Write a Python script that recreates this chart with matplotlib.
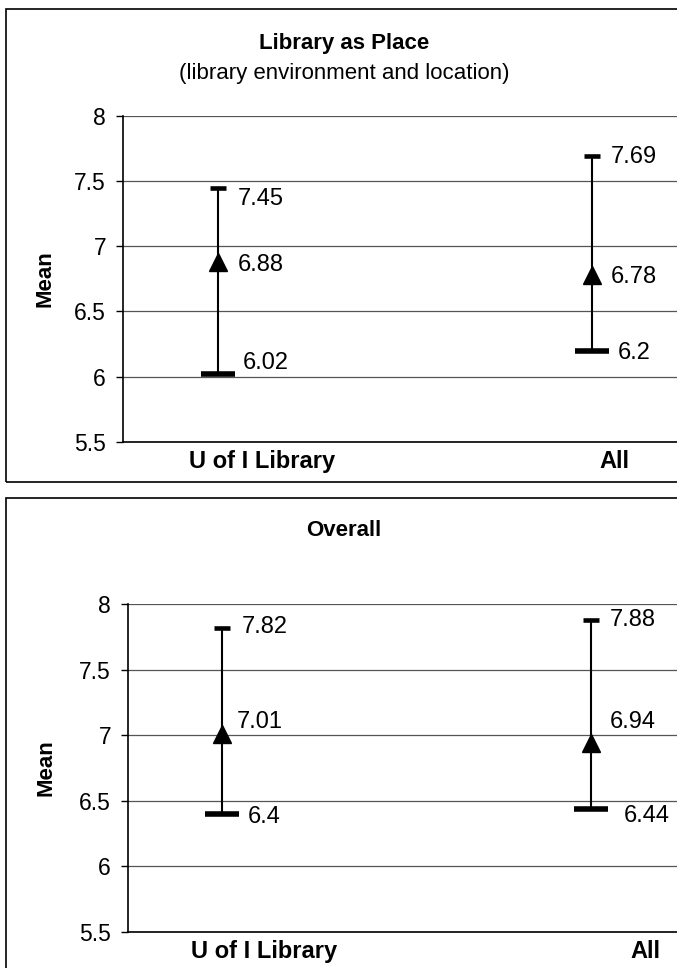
import matplotlib.pyplot as plt
from matplotlib.patches import Rectangle

plt.rcParams['font.family'] = ['Liberation Sans', 'DejaVu Sans']

# data
categories = ['U of I Library', 'All']

place_high = [7.45, 7.69]
place_mean = [6.88, 6.78]
place_low = [6.02, 6.2]

overall_high = [7.82, 7.88]
overall_mean = [7.01, 6.94]
overall_low = [6.4, 6.44]

yticks = [5.5, 6, 6.5, 7, 7.5, 8]

PX = 72 / 100  # points per pixel
W, H = 677, 968


def draw_panel(fig, rect, high, mean, low, xlim, label_x, offsets):
    ax = fig.add_axes(rect)
    x = list(range(len(categories)))
    for i in x:
        ax.plot([i, i], [low[i], high[i]], color='black', lw=1.5, zorder=3)
    ax.plot(x, high, ls='none', marker='_', ms=11.5, mew=3.3, color='black', zorder=4)
    ax.plot(x, low, ls='none', marker='_', ms=24, mew=4, color='black', zorder=4)
    ax.plot(x, mean, ls='none', marker='^', ms=13, color='black', zorder=5)

    # value labels (offsets in pixels: dx, dy downward)
    vals = [high, mean, low]
    for k, series in enumerate(vals):
        for i in x:
            dx, dy = offsets[k][i]
            ax.annotate(f'{series[i]:g}', (i, series[i]), xytext=(dx * PX, -dy * PX),
                        textcoords='offset points', ha='left', va='center', fontsize=17)

    ax.set_ylim(5.5, 8)
    ax.set_xlim(*xlim)
    ax.set_yticks(yticks)
    ax.set_yticklabels([f'{t:g}' for t in yticks], fontsize=16.5)
    ax.set_xticks(label_x)
    ax.set_xticklabels(categories, fontsize=17, fontweight='bold')
    ax.tick_params(axis='x', length=0, pad=6)
    ax.tick_params(axis='y', length=5, width=1, direction='out', pad=7)
    ax.grid(axis='y', color='#555555', lw=0.9)
    ax.set_axisbelow(True)
    for s in ['top', 'right']:
        ax.spines[s].set_visible(False)
    for s in ['left', 'bottom']:
        ax.spines[s].set_linewidth(1.2)
    ax.set_ylabel('Mean', fontsize=16, fontweight='bold')
    left_px = rect[0] * W
    ax.yaxis.set_label_coords((56 - left_px) / (W - left_px), 0.5)
    ax.patch.set_alpha(0)
    return ax


fig = plt.figure(figsize=(6.77, 9.68), dpi=100)

# panel frames
fig.patches.append(Rectangle((6 / W, 1 - 482 / H), 1.2, (482 - 9) / H, transform=fig.transFigure,
                             fill=False, ec='black', lw=1.2))
fig.patches.append(Rectangle((6 / W, -0.1), 1.2, 0.1 + 1 - 498 / H, transform=fig.transFigure,
                             fill=False, ec='black', lw=1.2))

top_offsets = [[(20, 11), (19, 1)], [(20, 3), (19, 2)], [(25, -11), (26, 2)]]
draw_panel(fig, [122.7 / W, 1 - 441.7 / H, 1 - 122.7 / W, (441.7 - 116) / H],
           place_high, place_mean, place_low, (-0.2533, 1.2267),
           [0 + 45 / 375, 1 + 22 / 375], top_offsets)
fig.text(344 / W, 1 - 44 / H, 'Library as Place', ha='center', va='center', fontsize=16, fontweight='bold')
fig.text(344 / W, 1 - 74 / H, '(library environment and location)', ha='center', va='center', fontsize=16)

bot_offsets = [[(20, -1), (19, 0)], [(15, -12), (19, -21)], [(26, 3), (33, 7)]]
draw_panel(fig, [127.7 / W, 1 - 932 / H, 1 - 127.7 / W, (932 - 604) / H],
           overall_high, overall_mean, overall_low, (-0.2547, 1.233),
           [0 + 42 / 369, 1 + 54 / 369], bot_offsets)
fig.text(344 / W, 1 - 530 / H, 'Overall', ha='center', va='center', fontsize=16, fontweight='bold')

fig.savefig('out.png', dpi=100)
